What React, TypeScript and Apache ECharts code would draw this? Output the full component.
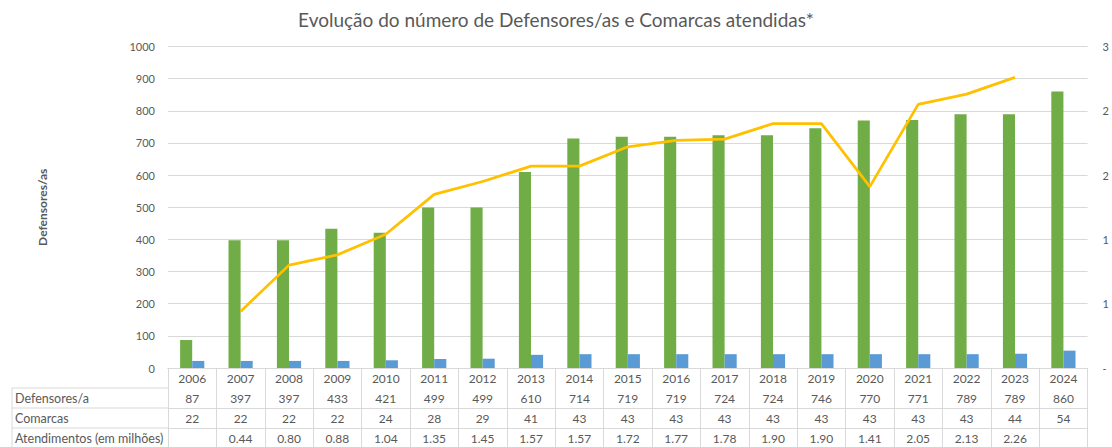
import { useEffect, useRef } from "react";
import * as echarts from "echarts";

const years = ["2006", "2007", "2008", "2009", "2010", "2011", "2012", "2013", "2014", "2015", "2016", "2017", "2018", "2019", "2020", "2021", "2022", "2023", "2024"];
const defensores = [87, 397, 397, 433, 421, 499, 499, 610, 714, 719, 719, 724, 724, 746, 770, 771, 789, 789, 860];
const comarcas = [22, 22, 22, 22, 24, 28, 29, 41, 43, 43, 43, 43, 43, 43, 43, 43, 43, 44, 54];
const atendimentos: (number | null)[] = [null, 0.44, 0.8, 0.88, 1.04, 1.35, 1.45, 1.57, 1.57, 1.72, 1.77, 1.78, 1.9, 1.9, 1.41, 2.05, 2.13, 2.26, null];
const rowLabels = ["Defensores/a", "Comarcas", "Atendimentos (em milhões)"];

const FONT = "Lato, 'Liberation Sans', sans-serif";
const TXT = "#595959";
const GRIDC = "#D9D9D9";

export default function App() {
  const ref = useRef<HTMLDivElement>(null);
  useEffect(() => {
    if (!ref.current) return;
    const chart = echarts.init(ref.current, undefined, { renderer: "svg" });
    const gridLeft = 168;
    const gridRight = 23;
    const gridTop = 46.5;
    const gridBottom = 79;
    const rowH = 20;
    const axisBase = 447 - gridBottom;

    const tableAxis = (idx: number, fmt: (i: number) => string, tickLen: number) => ({
      type: "category",
      data: years,
      gridIndex: 0,
      position: "bottom",
      offset: idx * rowH,
      axisLine: { show: true, lineStyle: { color: GRIDC, width: 1 } },
      axisTick: { show: tickLen > 0, length: tickLen, interval: 0, lineStyle: { color: GRIDC, width: 1 } },
      axisLabel: {
        show: true,
        interval: 0,
        margin: 4,
        color: TXT,
        fontFamily: FONT,
        fontSize: 12,
        formatter: (_v: string, i: number) => fmt(i),
      },
      splitLine: { show: false },
    });

    const graphics: any[] = [];
    const colLeft = 12;
    for (let r = 0; r < 3; r++) {
      const y = axisBase + rowH * (r + 1);
      graphics.push({
        type: "line",
        shape: { x1: colLeft, y1: y, x2: gridLeft, y2: y },
        style: { stroke: GRIDC, lineWidth: 1 },
      });
      graphics.push({
        type: "text",
        x: colLeft + 3,
        y: y + rowH / 2,
        style: { text: rowLabels[r], fill: TXT, font: `12.5px ${FONT}`, verticalAlign: "middle", align: "left" },
      });
    }
    graphics.push({
      type: "line",
      shape: { x1: colLeft, y1: axisBase + rowH, x2: colLeft, y2: 447 },
      style: { stroke: GRIDC, lineWidth: 1 },
    });

    chart.setOption({
      animation: false,
      backgroundColor: "#ffffff",
      title: {
        text: "Evolução do número de Defensores/as e Comarcas atendidas*",
        left: "center",
        top: 5,
        textStyle: { color: TXT, fontFamily: FONT, fontSize: 19, fontWeight: "normal" },
      },
      grid: { left: gridLeft, right: gridRight, top: gridTop, bottom: gridBottom, containLabel: false },
      xAxis: [
        tableAxis(0, (i) => years[i], 2 * rowH),
        tableAxis(1, (i) => String(defensores[i]), 0),
        tableAxis(2, (i) => String(comarcas[i]), rowH),
        tableAxis(3, (i) => (atendimentos[i] == null ? "" : (atendimentos[i] as number).toFixed(2)), rowH),
      ],
      yAxis: [
        {
          type: "value",
          min: 0,
          max: 1000,
          interval: 100,
          name: "Defensores/as",
          nameLocation: "middle",
          nameRotate: 90,
          nameGap: 120,
          nameTextStyle: { color: TXT, fontFamily: FONT, fontSize: 12, fontWeight: "bold" },
          axisLine: { show: false },
          axisTick: { show: false },
          axisLabel: { color: TXT, fontFamily: FONT, fontSize: 11, margin: 13, formatter: (v: number) => String(v) },
          splitLine: { show: true, lineStyle: { color: GRIDC, width: 1 } },
        },
        {
          type: "value",
          min: 0,
          max: 2.5,
          interval: 0.5,
          position: "right",
          axisLine: { show: false },
          axisTick: { show: false },
          axisLabel: {
            color: TXT,
            fontFamily: FONT,
            fontSize: 11,
            margin: 15,
            formatter: (v: number) => (v === 0 ? "-" : String(Math.round(v))),
          },
          splitLine: { show: false },
        },
      ],
      series: [
        {
          name: "Defensores/a",
          type: "bar",
          xAxisIndex: 0,
          yAxisIndex: 0,
          data: defensores,
          barGap: "0%",
          barCategoryGap: "50%",
          itemStyle: { color: "#70AD47" },
        },
        {
          name: "Comarcas",
          type: "bar",
          xAxisIndex: 0,
          yAxisIndex: 0,
          data: comarcas,
          barGap: "0%",
          barCategoryGap: "50%",
          itemStyle: { color: "#5B9BD5" },
        },
        {
          name: "Atendimentos (em milhões)",
          type: "line",
          xAxisIndex: 0,
          yAxisIndex: 1,
          data: atendimentos,
          symbol: "none",
          connectNulls: false,
          lineStyle: { color: "#FFC000", width: 2.75 },
          z: 5,
        },
      ],
      graphic: graphics,
    });
    return () => chart.dispose();
  }, []);
  return <div ref={ref} style={{ position: "absolute", left: 0, top: 0, width: 1112, height: 447 }} />;
}
